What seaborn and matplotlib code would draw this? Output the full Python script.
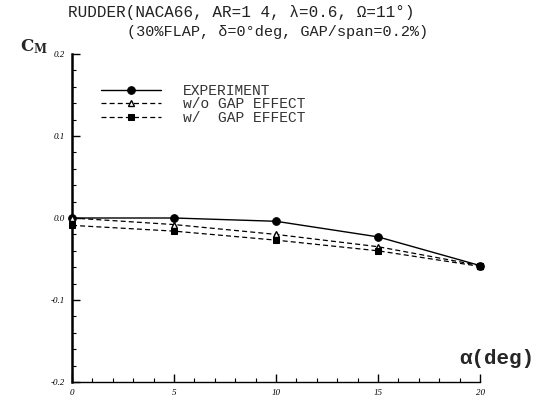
import matplotlib
matplotlib.use("Agg")
import matplotlib.pyplot as plt
import seaborn as sns
import pandas as pd
from matplotlib.ticker import MultipleLocator, FixedLocator

sns.set_theme(style="ticks")
plt.rcParams["mathtext.fontset"] = "dejavuserif"

alpha = [0, 5, 10, 15, 20]
cm_experiment = [0.000, 0.000, -0.004, -0.023, -0.058]
cm_without_gap = [0.000, -0.008, -0.020, -0.035, -0.058]
cm_with_gap = [-0.009, -0.016, -0.027, -0.040, -0.059]
series_names = ["EXPERIMENT", "w/o GAP EFFECT", "w/  GAP EFFECT"]
xtick_vals = [0, 5, 10, 15, 20]
xtick_labels = ["0", "5", "10", "15", "20"]
ytick_vals = [-0.2, -0.1, 0.0, 0.1, 0.2]
ytick_labels = ["-0.2", "-0.1", "0.0", "0.1", "0.2"]

df = pd.concat([
    pd.DataFrame({"alpha": alpha, "cm": cm_experiment, "series": series_names[0]}),
    pd.DataFrame({"alpha": alpha, "cm": cm_without_gap, "series": series_names[1]}),
    pd.DataFrame({"alpha": alpha, "cm": cm_with_gap, "series": series_names[2]}),
])

fig = plt.figure(figsize=(5.52, 4.01), dpi=100)
ax = fig.add_axes([72/552, 19/401, 408/552, 328/401])

styles = {
    series_names[0]: dict(linestyle="-", marker="o", markersize=5.5, markerfacecolor="black",
                          markeredgecolor="black", linewidth=1.0),
    series_names[1]: dict(linestyle=(0, (4, 2.5)), marker="^", markersize=5, markerfacecolor="white",
                          markeredgecolor="black", markeredgewidth=1.0, linewidth=0.9),
    series_names[2]: dict(linestyle=(0, (4, 2.5)), marker="s", markersize=4.5, markerfacecolor="black",
                          markeredgecolor="black", linewidth=0.9),
}
for name in series_names:
    sub = df[df["series"] == name]
    sns.lineplot(data=sub, x="alpha", y="cm", ax=ax, color="black", label=name,
                 clip_on=False, zorder=3, **styles[name])

ax.set_xlim(0, 20)
ax.set_ylim(-0.2, 0.2)
ax.xaxis.set_major_locator(FixedLocator(xtick_vals))
ax.set_xticklabels(xtick_labels)
ax.yaxis.set_major_locator(FixedLocator(ytick_vals))
ax.set_yticklabels(ytick_labels)
ax.xaxis.set_minor_locator(MultipleLocator(1))
ax.yaxis.set_minor_locator(MultipleLocator(0.02))
ax.tick_params(which="both", direction="in", colors="black", labelsize=6.5, pad=5)
ax.tick_params(which="major", length=6, width=1)
ax.tick_params(which="minor", length=3, width=0.8)
for lab in ax.get_xticklabels() + ax.get_yticklabels():
    lab.set_fontfamily("Liberation Serif")
    lab.set_fontstyle("italic")
ax.set_xlabel("")
ax.set_ylabel("")
for s in ["top", "right"]:
    ax.spines[s].set_visible(False)
ax.spines["left"].set_linewidth(1.8)
ax.spines["bottom"].set_linewidth(1.0)
ax.spines["left"].set_color("black")
ax.spines["bottom"].set_color("black")

leg = ax.legend(loc="upper left", bbox_to_anchor=(0.04, 0.948), frameon=False,
                prop={"family": "Liberation Mono", "size": 10.5}, handlelength=4.1,
                handletextpad=1.5, labelspacing=-0.05)
for t in leg.get_texts():
    t.set_color("#333333")

fig.text(68/552, 1 - 12/401, "RUDDER(NACA66, AR=1 4, λ=0.6, Ω=11°)", ha="left", va="center",
         fontsize=11.5, family="Liberation Mono", color="#222222")
fig.text(127/552, 1 - 32/401, "(30%FLAP, δ=0°deg, GAP/span=0.2%)", ha="left", va="center",
         fontsize=11, family="Liberation Mono", color="#222222")
fig.text(20/552, 1 - 47/401, r"$\mathbf{C_{M}}$", ha="left", va="center", fontsize=12)
fig.text(459/552, 1 - 359/401, "α(deg)", ha="left", va="center", fontsize=15,
         family="Liberation Mono", fontweight="bold")

fig.savefig("out.png", dpi=100, facecolor="white")
